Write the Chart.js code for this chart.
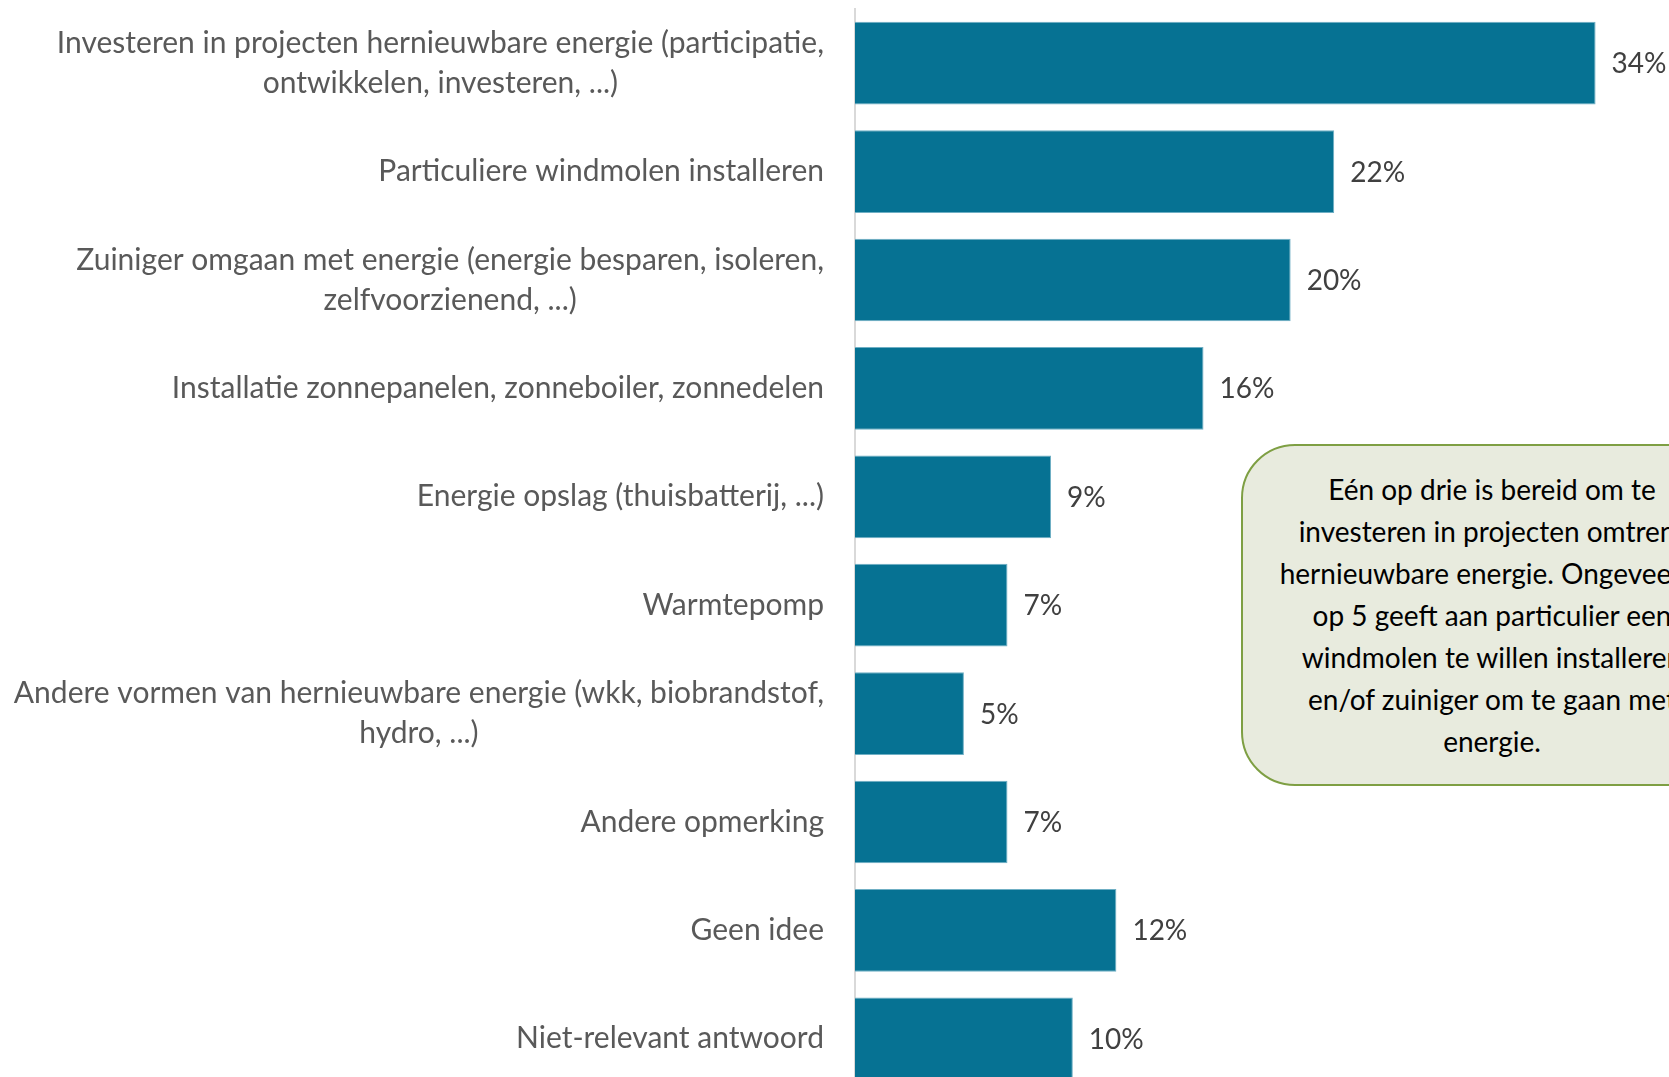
<!DOCTYPE html>
<html>
<head>
<meta charset="utf-8">
<script src="https://cdn.jsdelivr.net/npm/chart.js@4.4.1/dist/chart.umd.min.js"></script>
<style>
  html, body { margin: 0; padding: 0; background: #fff; overflow: hidden; }
  #wrap { position: relative; width: 1669px; height: 1077px; overflow: hidden; }
  #chart { position: absolute; left: 0; top: 0; }
  .callout {
    position: absolute; left: 1241px; top: 444px; width: 502px; height: 342px;
    box-sizing: border-box; background: #E8EBDE; border: 2px solid #7E9F43; border-radius: 54px;
    font-family: Lato, "Open Sans", sans-serif; font-size: 28px; line-height: 42px; color: #000;
    text-align: center; padding-top: 22px; white-space: nowrap;
  }
</style>
</head>
<body>
<div id="wrap">
  <canvas id="chart" width="1669" height="1100"></canvas>
  <div class="callout">Eén op drie is bereid om te<br>investeren in projecten omtrent<br>hernieuwbare energie. Ongeveer 1<br>op 5 geeft aan particulier een<br>windmolen te willen installeren<br>en/of zuiniger om te gaan met<br>energie.</div>
</div>
<script>
const categories = [
  ['Investeren in projecten hernieuwbare energie (participatie,', 'ontwikkelen, investeren, ...)'],
  ['Particuliere windmolen installeren'],
  ['Zuiniger omgaan met energie (energie besparen, isoleren,', 'zelfvoorzienend, ...)'],
  ['Installatie zonnepanelen, zonneboiler, zonnedelen'],
  ['Energie opslag (thuisbatterij, ...)'],
  ['Warmtepomp'],
  ['Andere vormen van hernieuwbare energie (wkk, biobrandstof,', 'hydro, ...)'],
  ['Andere opmerking'],
  ['Geen idee'],
  ['Niet-relevant antwoord']
]
const percentages = [34, 22, 20, 16, 9, 7, 5, 7, 12, 10]

const labelFont = '30px Lato, "Open Sans", sans-serif'
const valueFont = '28px Lato, "Open Sans", sans-serif'

// category labels: block right aligned, lines centred inside the block
const categoryLabels = {
    id: 'categoryLabels',
    afterDraw(chart){
        const ctx = chart.ctx
        const yScale = chart.scales.y
        const right = yScale.right - 31
        ctx.save()
        ctx.font = labelFont
        ctx.fillStyle = '#595959'
        ctx.textAlign = 'center'
        ctx.textBaseline = 'middle'
        categories.forEach((lines, i) => {
            const y = yScale.getPixelForValue(i)
            const widest = Math.max(...lines.map(l => ctx.measureText(l).width))
            const cx = right - widest / 2
            const lineH = 40
            const top = y - (lines.length - 1) * lineH / 2
            lines.forEach((l, j) => ctx.fillText(l, cx, top + j * lineH))
        })
        ctx.restore()
    }
}

const valueLabels = {
    id: 'valueLabels',
    afterDatasetsDraw(chart){
        const ctx = chart.ctx
        const meta = chart.getDatasetMeta(0)
        ctx.save()
        ctx.font = valueFont
        ctx.fillStyle = '#404040'
        ctx.textAlign = 'left'
        ctx.textBaseline = 'middle'
        meta.data.forEach((bar, i) => {
            ctx.fillText(percentages[i] + '%', bar.x + 16, bar.y + 1)
        })
        ctx.restore()
    }
}

new Chart(document.getElementById('chart'), {
    type: 'bar',
    data: {
        labels: categories.map(c => c.join(' ')),
        datasets: [{
            data: percentages,
            backgroundColor: '#067293',
            borderColor: '#6FAFC4',
            borderWidth: 1,
            categoryPercentage: 1,
            barPercentage: 0.763
        }]
    },
    options: {
        indexAxis: 'y',
        responsive: false,
        animation: false,
        layout: { padding: { top: 9, bottom: 7, left: 0, right: 0 } },
        plugins: { legend: { display: false }, tooltip: { enabled: false } },
        scales: {
            x: { display: false, min: 0, max: 37.37 },
            y: {
                grid: { display: false, drawTicks: false },
                border: { display: true, color: '#D9D9D9', width: 2 },
                ticks: { display: false },
                afterFit(scale){ scale.width = 855 }
            }
        }
    },
    plugins: [categoryLabels, valueLabels]
})
</script>
</body>
</html>
